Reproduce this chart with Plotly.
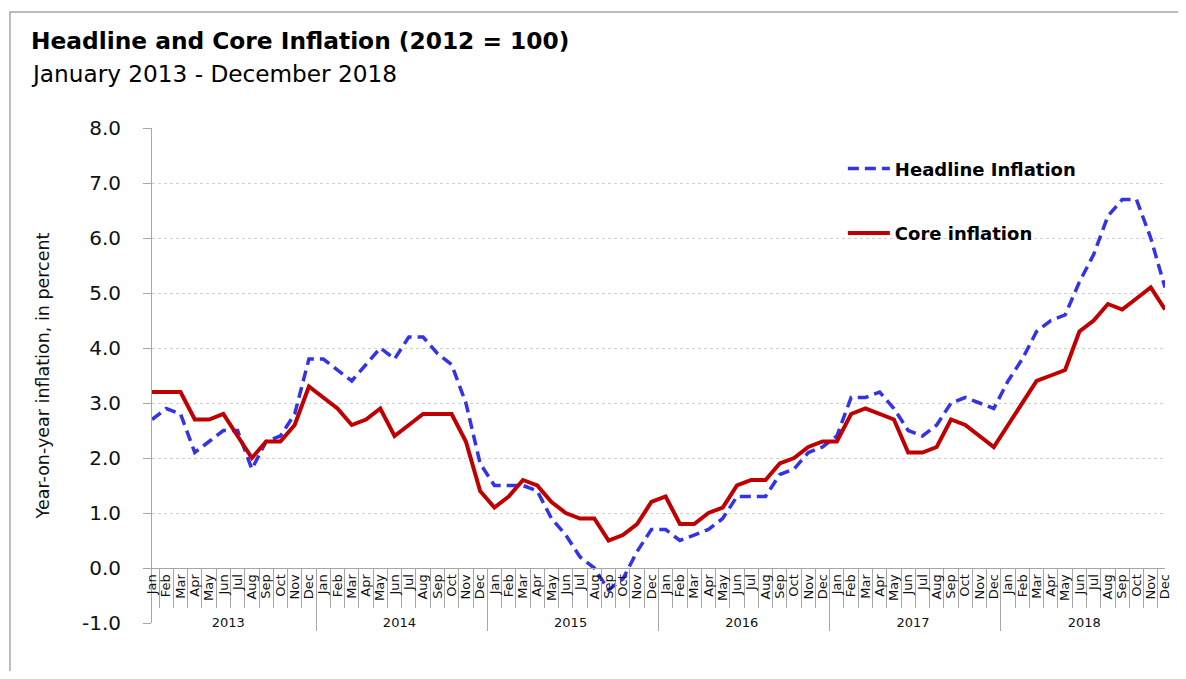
import plotly.graph_objects as go

years = ["2013", "2014", "2015", "2016", "2017", "2018"]
months = ["Jan", "Feb", "Mar", "Apr", "May", "Jun", "Jul", "Aug", "Sep", "Oct", "Nov", "Dec"]

headline = [
    2.7, 2.9, 2.8, 2.1, 2.3, 2.5, 2.5, 1.8, 2.3, 2.4, 2.8, 3.8,
    3.8, 3.6, 3.4, 3.7, 4.0, 3.8, 4.2, 4.2, 3.9, 3.7, 3.0, 1.9,
    1.5, 1.5, 1.5, 1.4, 0.9, 0.6, 0.2, 0.0, -0.4, -0.2, 0.3, 0.7,
    0.7, 0.5, 0.6, 0.7, 0.9, 1.3, 1.3, 1.3, 1.7, 1.8, 2.1, 2.2,
    2.4, 3.1, 3.1, 3.2, 2.9, 2.5, 2.4, 2.6, 3.0, 3.1, 3.0, 2.9,
    3.4, 3.8, 4.3, 4.5, 4.6, 5.2, 5.7, 6.4, 6.7, 6.7, 6.0, 5.1,
]
core = [
    3.2, 3.2, 3.2, 2.7, 2.7, 2.8, 2.4, 2.0, 2.3, 2.3, 2.6, 3.3,
    3.1, 2.9, 2.6, 2.7, 2.9, 2.4, 2.6, 2.8, 2.8, 2.8, 2.3, 1.4,
    1.1, 1.3, 1.6, 1.5, 1.2, 1.0, 0.9, 0.9, 0.5, 0.6, 0.8, 1.2,
    1.3, 0.8, 0.8, 1.0, 1.1, 1.5, 1.6, 1.6, 1.9, 2.0, 2.2, 2.3,
    2.3, 2.8, 2.9, 2.8, 2.7, 2.1, 2.1, 2.2, 2.7, 2.6, 2.4, 2.2,
    2.6, 3.0, 3.4, 3.5, 3.6, 4.3, 4.5, 4.8, 4.7, 4.9, 5.1, 4.7,
]

y_ticks = [-1, 0, 1, 2, 3, 4, 5, 6, 7, 8]
y_tick_labels = ["-1.0", "0.0", "1.0", "2.0", "3.0", "4.0", "5.0", "6.0", "7.0", "8.0"]

year_cat = [y for y in years for _ in months]
month_cat = [m for _ in years for m in months]
x = [year_cat, month_cat]

FONT = "'DejaVu Sans', sans-serif"

fig = go.Figure()
fig.add_trace(go.Scatter(
    x=x, y=headline, mode="lines", name="Headline Inflation",
    line=dict(color="#3333E8", width=3.5, dash="11px,6px"), legendgroup="a",
))
fig.add_trace(go.Scatter(
    x=x, y=core, mode="lines", name="Core inflation",
    line=dict(color="#C00000", width=4), legendgroup="b",
))

fig.update_layout(
    width=1170, height=663,
    margin=dict(l=144, r=13, t=120, b=48),
    paper_bgcolor="white", plot_bgcolor="white",
    font=dict(family=FONT, color="#111111"),
    showlegend=True,
    legend=dict(
        x=0.682, y=0.955, xanchor="left", yanchor="top",
        font=dict(size=18, family=FONT, color="#000000", weight="bold"),
        tracegroupgap=38, traceorder="grouped", itemwidth=42,
        bgcolor="rgba(0,0,0,0)",
    ),
    xaxis=dict(
        type="multicategory",
        anchor="free", position=1 / 9,
        tickmode="linear", tick0=0, dtick=1,
        showline=True, linecolor="#a6a6a6", linewidth=1,
        ticks="outside", tickson="boundaries", ticklen=39, tickcolor="#a6a6a6",
        tickangle=-90,
        tickfont=dict(size=13, family=FONT, color="#111111"),
        showdividers=True, dividercolor="#a6a6a6", dividerwidth=1,
        showgrid=False,
    ),
    yaxis=dict(
        range=[-1, 8], tickmode="array", tickvals=y_ticks, ticktext=y_tick_labels,
        showline=True, linecolor="#a6a6a6", linewidth=1,
        ticks="outside", ticklen=8, tickcolor="#a6a6a6",
        ticklabelstandoff=18,
        tickfont=dict(size=20, family=FONT, color="#111111"),
        showgrid=True, gridcolor="#d0d0d0", griddash="dot", gridwidth=1,
        zeroline=False,
        title=dict(text="Year-on-year inflation, in percent",
                   font=dict(size=17.5, family=FONT, color="#111111"), standoff=27),
    ),
    annotations=[
        dict(text="<b>Headline and Core Inflation (2012 = 100)</b>",
             xref="paper", yref="paper", x=-0.1215, y=1.176,
             xanchor="left", yanchor="middle", showarrow=False,
             font=dict(size=23.3, family=FONT, color="#000000")),
        dict(text="January 2013 - December 2018",
             xref="paper", yref="paper", x=-0.1215, y=1.111,
             xanchor="left", yanchor="middle", showarrow=False,
             font=dict(size=23.2, family=FONT, color="#000000")),
    ],
    shapes=[
        dict(type="path", xref="paper", yref="paper",
             path="M -0.1402,-0.2 L -0.1402,1.2343 L 1.05,1.2343",
             line=dict(color="#a6a6a6", width=1.5)),
    ],
)

fig.write_html("out.html")
